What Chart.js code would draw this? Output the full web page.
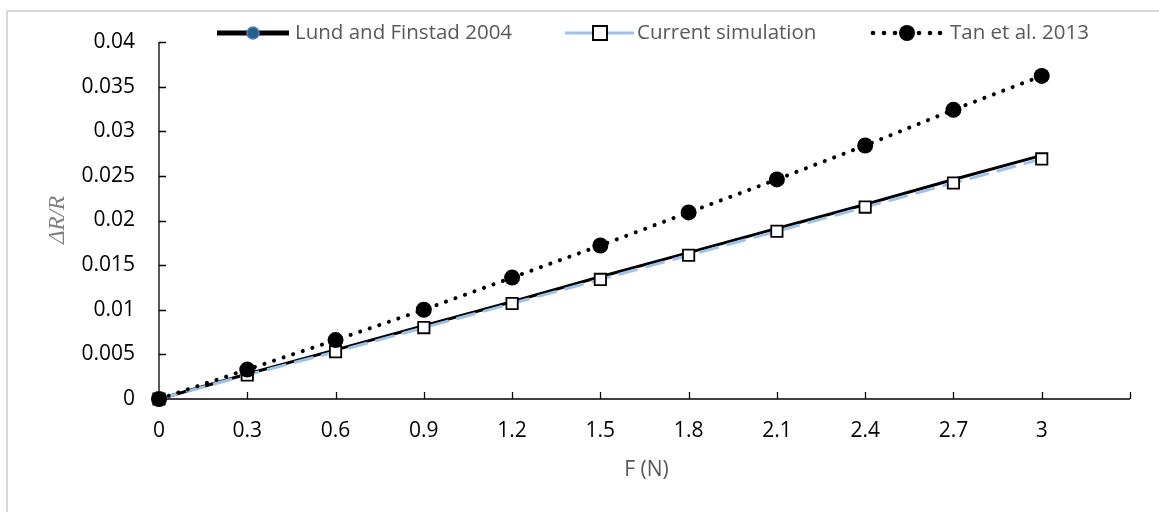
<!DOCTYPE html>
<html>
<head>
<meta charset="utf-8">
<script src="https://cdn.jsdelivr.net/npm/chart.js@4"></script>
<style>
  html, body { margin: 0; padding: 0; background: #fff; }
  #wrap { width: 1159px; height: 512px; position: relative; }
</style>
</head>
<body>
<div id="wrap"><canvas id="c" width="1159" height="512"></canvas></div>
<script>
// Applied force (N)
const forceN = [0, 0.3, 0.6, 0.9, 1.2, 1.5, 1.8, 2.1, 2.4, 2.7, 3];
// Relative resistance change ΔR/R
const lundFinstad2004 = [0, 0.0028, 0.0055, 0.0082, 0.0109, 0.0137, 0.0164, 0.0191, 0.0218, 0.0246, 0.0273];
const currentSimulation = [0, 0.0027, 0.0053, 0.0080, 0.0107, 0.0134, 0.0161, 0.0188, 0.0215, 0.0242, 0.0269];
const tan2013 = [0, 0.0033, 0.0066, 0.0100, 0.0136, 0.0172, 0.0209, 0.0246, 0.0284, 0.0324, 0.0362];
// Axis ticks
const xTicks = [0, 0.3, 0.6, 0.9, 1.2, 1.5, 1.8, 2.1, 2.4, 2.7, 3, 3.3];
const xTickLabels = ['0', '0.3', '0.6', '0.9', '1.2', '1.5', '1.8', '2.1', '2.4', '2.7', '3', ''];
const yTicks = [0, 0.005, 0.01, 0.015, 0.02, 0.025, 0.03, 0.035, 0.04];
const yTickLabels = ['0', '0.005', '0.01', '0.015', '0.02', '0.025', '0.03', '0.035', '0.04'];
const seriesNames = ['Lund and Finstad 2004', 'Current simulation', 'Tan et al. 2013'];

const FONT = '"Open Sans", "Noto Sans", sans-serif';
const toXY = (ys) => ys.map((y, i) => ({ x: forceN[i], y }));

// Frame, inside tick marks, axis titles and legend
const decor = {
  id: 'decor',
  beforeDraw(chart) {
    const ctx = chart.ctx;
    ctx.save();
    ctx.fillStyle = '#fff';
    ctx.fillRect(0, 0, chart.width, chart.height);
    ctx.strokeStyle = '#d9d9d9';
    ctx.lineWidth = 2;
    ctx.strokeRect(7, 11, chart.width + 20, chart.height + 20);
    ctx.restore();
  },
  beforeDatasetsDraw(chart) {
    const ctx = chart.ctx;
    const xs = chart.scales.x, ys = chart.scales.y;
    const a = chart.chartArea;
    ctx.save();
    // axis lines and inward ticks
    ctx.strokeStyle = '#000';
    ctx.lineWidth = 1.3;
    ctx.beginPath();
    ctx.moveTo(a.left, a.top); ctx.lineTo(a.left, a.bottom); ctx.lineTo(a.right, a.bottom);
    xTicks.forEach(v => { const px = Math.round(xs.getPixelForValue(v)) + 0.5; ctx.moveTo(px, a.bottom); ctx.lineTo(px, a.bottom - 7); });
    yTicks.forEach(v => { const py = Math.round(ys.getPixelForValue(v)) + 0.5; ctx.moveTo(a.left, py); ctx.lineTo(a.left + 7, py); });
    ctx.stroke();
    ctx.restore();
  },
  afterDraw(chart) {
    const ctx = chart.ctx;
    const xs = chart.scales.x;
    ctx.save();
    // axis titles
    ctx.fillStyle = '#595959';
    ctx.font = '21px ' + FONT;
    ctx.textAlign = 'center';
    ctx.textBaseline = 'middle';
    ctx.fillText('F (N)', (xs.getPixelForValue(1.5) + xs.getPixelForValue(1.8)) / 2 + 2, 470);
    ctx.save();
    ctx.translate(58, 220);
    ctx.rotate(-Math.PI / 2);
    ctx.fillStyle = '#7f7f7f';
    ctx.font = 'italic 23px "Liberation Serif", "DejaVu Serif", serif';
    ctx.fillText('ΔR/R', 0, 0);
    ctx.restore();

    // legend
    const ly = 33;
    const ds = chart.data.datasets;
    ctx.font = '20.5px ' + FONT;
    ctx.textAlign = 'left';
    // Lund and Finstad 2004
    ctx.strokeStyle = '#000'; ctx.lineWidth = 5;
    ctx.beginPath(); ctx.moveTo(217, ly); ctx.lineTo(289, ly); ctx.stroke();
    ctx.fillStyle = '#255e91'; ctx.strokeStyle = '#4f81bd'; ctx.lineWidth = 1.5;
    ctx.beginPath(); ctx.arc(253, ly, 6, 0, Math.PI * 2); ctx.fill(); ctx.stroke();
    ctx.fillStyle = '#595959';
    ctx.fillText(ds[0].label, 295, ly);
    // Current simulation
    ctx.strokeStyle = ds[1].borderColor; ctx.lineWidth = 3;
    ctx.beginPath(); ctx.moveTo(565, ly); ctx.lineTo(634, ly); ctx.stroke();
    ctx.fillStyle = '#fff'; ctx.strokeStyle = '#000'; ctx.lineWidth = 2;
    ctx.fillRect(593, ly - 7, 14, 14); ctx.strokeRect(593, ly - 7, 14, 14);
    ctx.fillStyle = '#595959';
    ctx.fillText(ds[1].label, 637, ly);
    // Tan et al. 2013
    ctx.fillStyle = '#000';
    [873, 884, 895, 919, 930, 940].forEach(x => { ctx.beginPath(); ctx.arc(x, ly, 2.3, 0, Math.PI * 2); ctx.fill(); });
    ctx.beginPath(); ctx.arc(907, ly, 8, 0, Math.PI * 2); ctx.fill();
    ctx.fillStyle = '#595959';
    ctx.fillText(ds[2].label, 950, ly);
    ctx.restore();
  }
};

new Chart(document.getElementById('c'), {
  type: 'scatter',
  data: {
    datasets: [
      {
        label: seriesNames[0],
        data: toXY(lundFinstad2004),
        showLine: true,
        clip: false,
        borderColor: '#000',
        borderWidth: 3,
        pointRadius: 0,
        order: 2
      },
      {
        label: seriesNames[1],
        data: toXY(currentSimulation),
        showLine: true,
        clip: false,
        borderColor: '#9fc3e8',
        borderWidth: 3,
        borderDash: [20, 8],
        pointStyle: 'rect',
        pointRadius: 8,
        pointBackgroundColor: '#fff',
        pointBorderColor: '#000',
        pointBorderWidth: 1.8,
        order: 1
      },
      {
        label: seriesNames[2],
        data: toXY(tan2013),
        showLine: true,
        clip: false,
        borderColor: '#000',
        borderWidth: 4,
        borderDash: [0.1, 10],
        borderCapStyle: 'round',
        pointStyle: 'circle',
        pointRadius: 8,
        pointBackgroundColor: '#000',
        pointBorderColor: '#000',
        pointBorderWidth: 0,
        order: 0
      }
    ]
  },
  options: {
    responsive: false,
    animation: false,
    events: [],
    layout: { padding: { left: 0, top: 42, right: 29, bottom: 0 } },
    plugins: { legend: { display: false }, tooltip: { enabled: false }, title: { display: false } },
    scales: {
      x: {
        type: 'linear',
        min: 0, max: 3.3,
        afterFit(s) { s.height = 113; },
        afterBuildTicks(s) { s.ticks = xTicks.map(v => ({ value: v })); },
        grid: { display: false, drawTicks: false },
        border: { display: false },
        ticks: {
          padding: 19,
          color: '#000',
          font: { family: FONT, size: 21 },
          maxRotation: 0,
          autoSkip: false,
          callback: (v, i) => xTickLabels[i]
        }
      },
      y: {
        type: 'linear',
        min: 0, max: 0.04,
        afterFit(s) { s.width = 159; },
        afterBuildTicks(s) { s.ticks = yTicks.map(v => ({ value: v })); },
        grid: { display: false, drawTicks: false },
        border: { display: false },
        ticks: {
          padding: 24,
          color: '#000',
          font: { family: FONT, size: 21 },
          autoSkip: false,
          callback: (v, i) => yTickLabels[i]
        }
      }
    }
  },
  plugins: [decor]
});
</script>
</body>
</html>
